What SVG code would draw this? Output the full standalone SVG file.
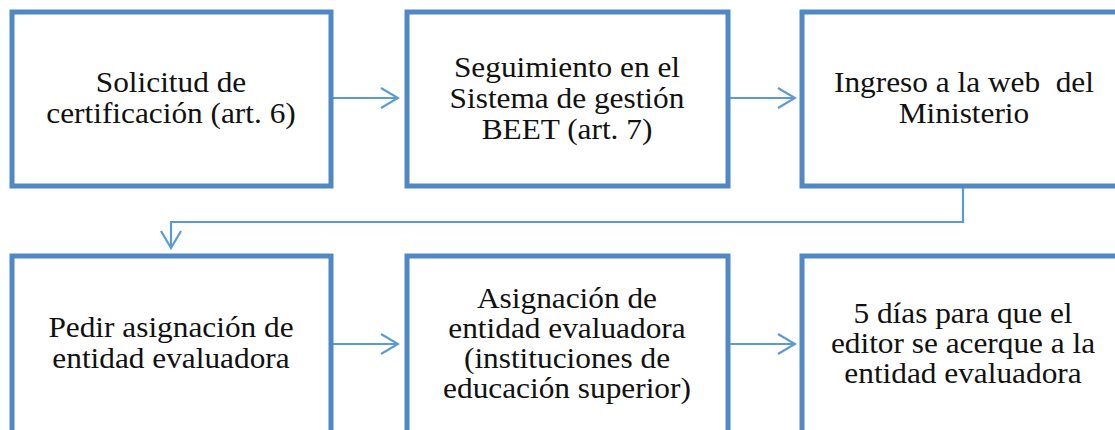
<svg xmlns="http://www.w3.org/2000/svg" width="1115" height="430" viewBox="0 0 1115 430">
<style>
.box{fill:#ffffff;stroke:#4F88C4;stroke-width:5}
.conn{fill:none;stroke:#5B9BD5;stroke-width:2.2}
.lbl{font-family:"Liberation Serif","Times New Roman",serif;font-size:29px;text-anchor:middle;fill:#111111}
</style>
<defs>
<marker id="arr" viewBox="0 0 20 22" refX="18" refY="11" markerWidth="20" markerHeight="22" markerUnits="userSpaceOnUse" orient="auto">
<path d="M1,1 L18,11 L1,21" fill="none" stroke="#5B9BD5" stroke-width="2.2"/>
</marker>
</defs>
<g id="connectors">
<line class="conn" x1="333" y1="98" x2="398" y2="98" marker-end="url(#arr)"/>
<line class="conn" x1="730" y1="98" x2="795" y2="98" marker-end="url(#arr)"/>
<path class="conn" d="M963,188 V222 H171 V248" marker-end="url(#arr)"/>
<line class="conn" x1="333" y1="344" x2="398" y2="344" marker-end="url(#arr)"/>
<line class="conn" x1="730" y1="344" x2="795" y2="344" marker-end="url(#arr)"/>
</g>
<g id="node1">
<rect class="box" x="12" y="12" width="319" height="174"/>
<g transform="matrix(1.08,0,0,1,-13.68,0)">
<text class="lbl" x="171" y="92">Solicitud de</text>
<text class="lbl" x="171" y="123">certificación (art. 6)</text>
</g>
</g>
<g id="node2">
<rect class="box" x="407" y="12" width="321" height="174"/>
<g transform="matrix(1.08,0,0,1,-45.36,0)">
<text class="lbl" x="567" y="77">Seguimiento en el</text>
<text class="lbl" x="567" y="108">Sistema de gestión</text>
<text class="lbl" x="567" y="139">BEET (art. 7)</text>
</g>
</g>
<g id="node3">
<rect class="box" x="802" y="12" width="322" height="174"/>
<g transform="matrix(1.08,0,0,1,-77.12,0)">
<text class="lbl" x="964" y="92" xml:space="preserve">Ingreso a la web  del</text>
<text class="lbl" x="964" y="123">Ministerio</text>
</g>
</g>
<g id="node4">
<rect class="box" x="12" y="256" width="319" height="190"/>
<g transform="matrix(1.08,0,0,1,-13.68,0)">
<text class="lbl" x="171" y="337">Pedir asignación de</text>
<text class="lbl" x="171" y="368">entidad evaluadora</text>
</g>
</g>
<g id="node5">
<rect class="box" x="407" y="256" width="321" height="190"/>
<g transform="matrix(1.08,0,0,1,-45.36,0)">
<text class="lbl" x="567" y="308">Asignación de</text>
<text class="lbl" x="567" y="338">entidad evaluadora</text>
<text class="lbl" x="567" y="368">(instituciones de</text>
<text class="lbl" x="567" y="398">educación superior)</text>
</g>
</g>
<g id="node6">
<rect class="box" x="802" y="256" width="322" height="190"/>
<g transform="matrix(1.08,0,0,1,-77.04,0)">
<text class="lbl" x="963" y="323">5 días para que el</text>
<text class="lbl" x="963" y="353">editor se acerque a la</text>
<text class="lbl" x="963" y="383">entidad evaluadora</text>
</g>
</g>
</svg>
